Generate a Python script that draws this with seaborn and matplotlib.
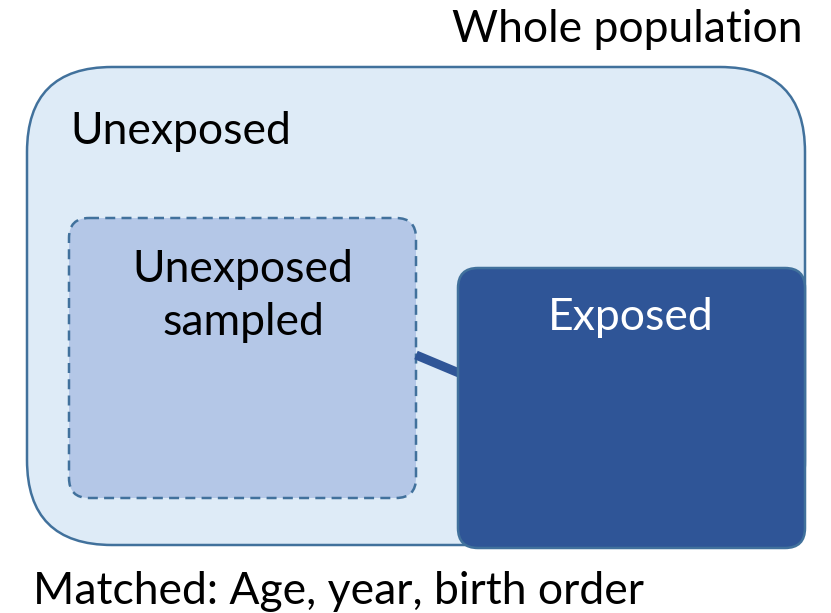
import matplotlib
matplotlib.use("Agg")
import matplotlib.pyplot as plt
from matplotlib.patches import FancyBboxPatch
import seaborn as sns

# 方框: 名称, 左, 上, 右, 下 (像素)
box_names = ["Whole population", "Unexposed sampled", "Exposed"]
box_left = [27, 69, 458]
box_top = [67, 218, 268]
box_right = [805, 416, 805]
box_bottom = [545, 498, 548]

labels = ["Whole population", "Unexposed", "Unexposed\nsampled", "Exposed",
          "Matched: Age, year, birth order"]

sns.set_theme(style="white")
plt.rcParams["font.family"] = ["Lato", "DejaVu Sans"]

fig = plt.figure(figsize=(8.31, 6.13), dpi=100)
ax = fig.add_axes([0, 0, 1, 1])
ax.set_xlim(0, 831)
ax.set_ylim(613, 0)
ax.axis("off")

fills = ["#DEEBF7", "#B4C7E7", "#2F5597"]
radii = [85, 20, 20]
styles = ["solid", (0, (4, 2.5)), "solid"]
for i in range(3):
    w = box_right[i] - box_left[i]
    h = box_bottom[i] - box_top[i]
    p = FancyBboxPatch((box_left[i], box_top[i]), w, h,
                       boxstyle=f"round,pad=0,rounding_size={radii[i]}",
                       facecolor=fills[i], edgecolor="#41719C", linewidth=1.8,
                       linestyle=styles[i], zorder=2 + i)
    ax.add_patch(p)

# 连接线
ax.plot([416, 459], [355, 373], color="#2F5597", linewidth=6.5,
        solid_capstyle="butt", zorder=3)

fs = 32
ax.text(803, 30, labels[0], ha="right", va="center", fontsize=fs, color="black")
ax.text(70, 132, labels[1], ha="left", va="center", fontsize=fs, color="black")
ax.text(243, 296, labels[2], ha="center", va="center", fontsize=fs,
        color="black", linespacing=1.37)
ax.text(631, 318, labels[3], ha="center", va="center", fontsize=fs, color="white",
        zorder=6)
ax.text(33, 592, labels[4], ha="left", va="center", fontsize=fs, color="black")

fig.savefig("out.png", dpi=100)
